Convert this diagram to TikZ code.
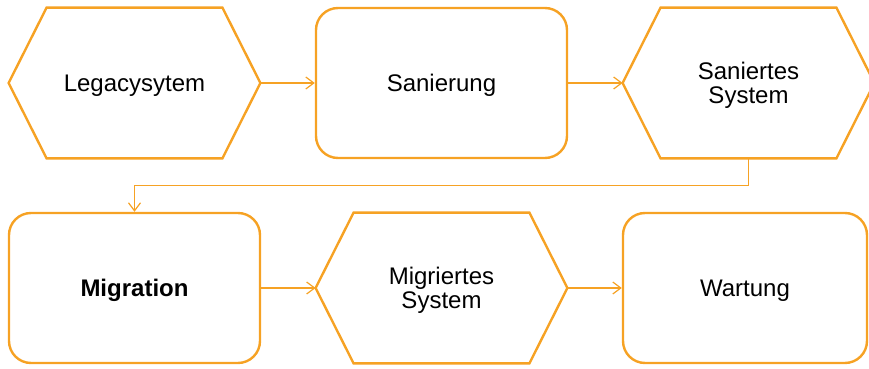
\documentclass[tikz,border=0pt]{standalone}
\usepackage{fontspec}
\setmainfont{Liberation Sans}
\usetikzlibrary{arrows.meta}
\definecolor{flow}{RGB}{246,162,36}

\begin{document}
\begin{tikzpicture}[x=0.5pt,y=-0.5pt,
	stage/.style={draw=flow,line width=1.2pt,rounded corners=11pt,minimum width=125.5pt,minimum height=75pt,font=\fontsize{12}{12}\selectfont,align=center,text depth=0pt},
	state/.style={minimum width=125.5pt,minimum height=75pt,font=\fontsize{12}{12}\selectfont,align=center,text depth=0pt},
	hexline/.style={draw=flow,line width=1.2pt,line join=miter},
	link/.style={draw=flow,line width=0.6pt,-{Straight Barb[length=4pt,width=6pt]}}]
	\useasboundingbox (0,0) rectangle (869,369);

	\node[state] (legacy) at (134.5,83) {Legacysytem};
	\node[stage] (sanierung) at (441.5,83) {Sanierung};
	\node[state] (saniert) at (748.5,83) {Saniertes\\System};

	\node[stage] (migration) at (134.5,288) {\textbf{Migration}};
	\node[state] (migriert) at (441.5,288) {Migriertes\\System};
	\node[stage,minimum width=122pt] (wartung) at (745,288) {Wartung};

	% hexagons round the states
	\foreach \n in {legacy,saniert,migriert}
		\draw[hexline] ([xshift=19pt]\n.north west) -- ([xshift=-19pt]\n.north east) -- (\n.east)
			-- ([xshift=-19pt]\n.south east) -- ([xshift=19pt]\n.south west) -- (\n.west) -- cycle;

	\draw[link] (legacy.east) -- (sanierung.west);
	\draw[link] (sanierung.east) -- (saniert.west);
	\draw[link] (saniert.south) -- ++(0,27) -| (migration.north);
	\draw[link] (migration.east) -- (migriert.west);
	\draw[link] (migriert.east) -- (wartung.west);
\end{tikzpicture}
\end{document}
